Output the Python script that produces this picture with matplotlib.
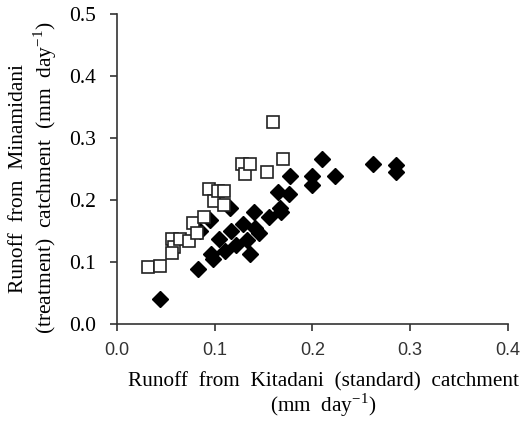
import matplotlib
matplotlib.use("Agg")
import matplotlib.pyplot as plt

# Minamidani (treatment) vs Kitadani (standard) runoff, mm/day
# open squares
sq_x = [0.032, 0.044, 0.056, 0.058, 0.056, 0.064, 0.0735, 0.078, 0.082, 0.089,
        0.094, 0.099, 0.1035, 0.1096, 0.1096, 0.1275, 0.131, 0.136, 0.153, 0.160, 0.170]
sq_y = [0.092, 0.093, 0.136, 0.124, 0.114, 0.136, 0.133, 0.162, 0.146, 0.172,
        0.217, 0.198, 0.214, 0.214, 0.191, 0.258, 0.241, 0.258, 0.245, 0.3245, 0.265]

# filled diamonds
dm_x = [0.044, 0.083, 0.085, 0.095, 0.096, 0.098, 0.104, 0.110, 0.116, 0.117,
        0.122, 0.129, 0.133, 0.136, 0.140, 0.141, 0.145, 0.155, 0.165, 0.167,
        0.168, 0.176, 0.177, 0.200, 0.200, 0.210, 0.223, 0.262, 0.285, 0.286]
dm_y = [0.040, 0.089, 0.150, 0.168, 0.113, 0.104, 0.136, 0.118, 0.187, 0.150,
        0.127, 0.161, 0.135, 0.113, 0.180, 0.155, 0.147, 0.172, 0.212, 0.187,
        0.180, 0.210, 0.238, 0.239, 0.223, 0.265, 0.238, 0.258, 0.256, 0.244]

x_ticks = [0.0, 0.1, 0.2, 0.3, 0.4]
y_ticks = [0.0, 0.1, 0.2, 0.3, 0.4, 0.5]

serif = "Liberation Serif"

fig = plt.figure(figsize=(5.23, 4.25), dpi=100)
ax = fig.add_axes([0.224, 0.238, 0.747, 0.730])

ax.plot(dm_x, dm_y, linestyle="none", marker="D", markersize=8,
        color="black", zorder=2)
ax.plot(sq_x, sq_y, linestyle="none", marker="s", markersize=8,
        markerfacecolor="white", markeredgecolor="#222222",
        markeredgewidth=1.2, zorder=3)

ax.set_xlim(0, 0.4)
ax.set_ylim(0, 0.5)
ax.set_xticks(x_ticks)
ax.set_yticks(y_ticks)
ax.set_xticklabels([f"{v:.1f}" for v in x_ticks], family="Liberation Sans",
                   fontsize=13, color="#333333")
ax.set_yticklabels([f"{v:.1f}" for v in y_ticks], family=serif, fontsize=15.5)

for s in ["top", "right"]:
    ax.spines[s].set_visible(False)
for s in ["left", "bottom"]:
    ax.spines[s].set_linewidth(1.2)
    ax.spines[s].set_color("#333333")
ax.tick_params(direction="out", length=5, width=1.2, color="#333333")
ax.tick_params(axis="x", pad=8)
ax.tick_params(axis="y", pad=10)

ax.set_xlabel("Runoff  from  Kitadani  (standard)  catchment\n(mm  day$^{\\mathregular{-1}}$)",
              family=serif, fontsize=15.3, linespacing=1.0)
ax.xaxis.set_label_coords(0.528, -0.155)
ax.xaxis.label.set_va("top")
ax.set_ylabel("Runoff  from  Minamidani\n(treatment)  catchment  (mm  day$^{\\mathregular{-1}}$)",
              family=serif, fontsize=15.5, linespacing=1.15)
ax.yaxis.set_label_coords(-0.15, 0.47)

fig.savefig("out.png", dpi=100)
